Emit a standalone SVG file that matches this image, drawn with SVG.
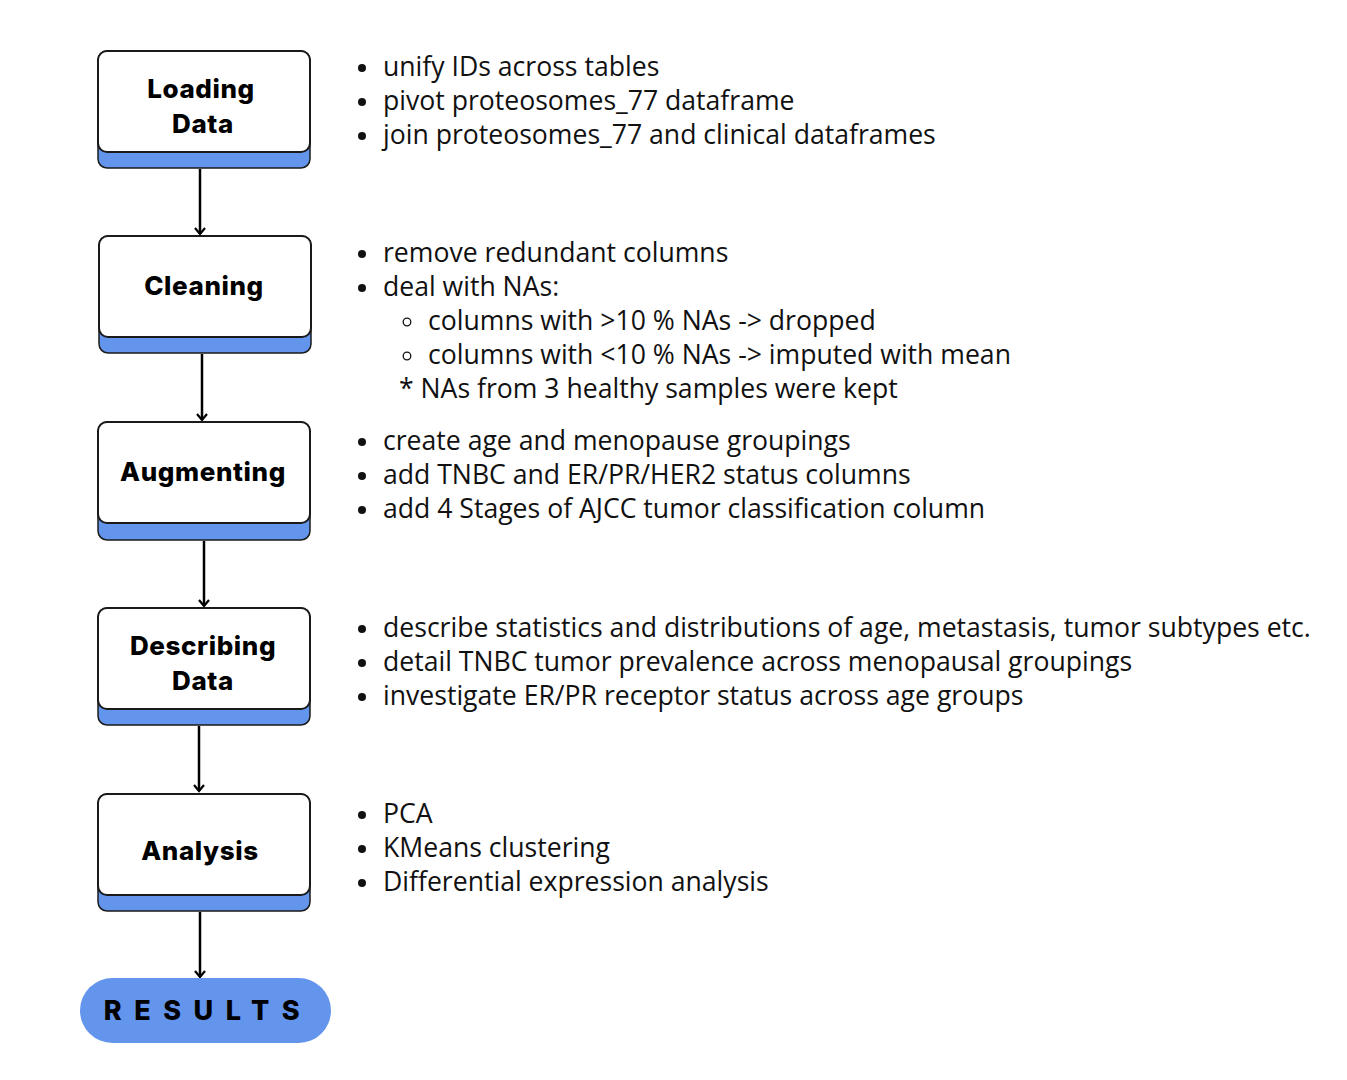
<svg xmlns="http://www.w3.org/2000/svg" width="1347" height="1080" viewBox="0 0 1347 1080">
<style>
.base{fill:#6495ED;stroke:#1a1a1a;stroke-width:1.5}
.face{fill:#ffffff;stroke:#1a1a1a;stroke-width:2}
.lbl{font-family:Inter,"Liberation Sans",sans-serif;font-weight:800;font-size:26px;letter-spacing:0.6px;fill:#000;text-anchor:middle}
.t{font-family:"Open Sans","Noto Sans",sans-serif;font-size:26.6px;fill:#111}
.conn{stroke:#000;stroke-width:2.5;fill:none}
</style>
<defs>
<marker id="ah" markerWidth="12" markerHeight="12" refX="9" refY="6" orient="auto" markerUnits="userSpaceOnUse" viewBox="0 0 12 12">
<path d="M3,1 L9,6 L3,11" fill="none" stroke="#000" stroke-width="2.2"/>
</marker>
</defs>
<rect width="1347" height="1080" fill="#fff"/>
<g id="connectors">
<line class="conn" x1="200" y1="169" x2="200" y2="234" marker-end="url(#ah)"/>
<line class="conn" x1="202" y1="354" x2="202" y2="420" marker-end="url(#ah)"/>
<line class="conn" x1="204" y1="541" x2="204" y2="606" marker-end="url(#ah)"/>
<line class="conn" x1="199" y1="726" x2="199" y2="791" marker-end="url(#ah)"/>
<line class="conn" x1="200" y1="912" x2="200" y2="977" marker-end="url(#ah)"/>
</g>
<g id="loading">
<rect class="base" x="98" y="51" width="212" height="117" rx="9"/>
<rect class="face" x="98" y="51" width="212" height="101" rx="9"/>
<text class="lbl" x="201" y="98">Loading</text>
<text class="lbl" x="203" y="133">Data</text>
</g>
<g id="cleaning">
<rect class="base" x="99" y="236" width="212" height="117" rx="9"/>
<rect class="face" x="99" y="236" width="212" height="101" rx="9"/>
<text class="lbl" x="204" y="295">Cleaning</text>
</g>
<g id="augmenting">
<rect class="base" x="98" y="422" width="212" height="118" rx="9"/>
<rect class="face" x="98" y="422" width="212" height="101" rx="9"/>
<text class="lbl" x="203" y="481">Augmenting</text>
</g>
<g id="describing">
<rect class="base" x="98" y="608" width="212" height="117" rx="9"/>
<rect class="face" x="98" y="608" width="212" height="101" rx="9"/>
<text class="lbl" x="203" y="655">Describing</text>
<text class="lbl" x="203" y="690">Data</text>
</g>
<g id="analysis">
<rect class="base" x="98" y="794" width="212" height="117" rx="9"/>
<rect class="face" x="98" y="794" width="212" height="101" rx="9"/>
<text class="lbl" x="200" y="860">Analysis</text>
</g>
<g id="results">
<rect x="80" y="978" width="251" height="65" rx="32.5" fill="#6495ED"/>
<text x="208" y="1020" font-family="Inter,'Liberation Sans',sans-serif" font-weight="800" font-size="27" letter-spacing="12.5" text-anchor="middle" fill="#000">RESULTS</text>
</g>
<g id="notes" class="t">
<circle cx="362" cy="68" r="4" fill="#111"/><text x="383" y="76">unify IDs across tables</text>
<circle cx="362" cy="102" r="4" fill="#111"/><text x="383" y="110">pivot proteosomes_77 dataframe</text>
<circle cx="362" cy="136" r="4" fill="#111"/><text x="383" y="144">join proteosomes_77 and clinical dataframes</text>

<circle cx="362" cy="254" r="4" fill="#111"/><text x="383" y="262">remove redundant columns</text>
<circle cx="362" cy="288" r="4" fill="#111"/><text x="383" y="296">deal with NAs:</text>
<circle cx="407" cy="322" r="3.8" fill="none" stroke="#111" stroke-width="1.3"/><text x="428" y="330">columns with &gt;10 % NAs -&gt; dropped</text>
<circle cx="407" cy="356" r="3.8" fill="none" stroke="#111" stroke-width="1.3"/><text x="428" y="364">columns with &lt;10 % NAs -&gt; imputed with mean</text>
<text x="399" y="398">* NAs from 3 healthy samples were kept</text>

<circle cx="362" cy="442" r="4" fill="#111"/><text x="383" y="450">create age and menopause groupings</text>
<circle cx="362" cy="476" r="4" fill="#111"/><text x="383" y="484">add TNBC and ER/PR/HER2 status columns</text>
<circle cx="362" cy="510" r="4" fill="#111"/><text x="383" y="518">add 4 Stages of AJCC tumor classification column</text>

<circle cx="362" cy="629" r="4" fill="#111"/><text x="383" y="637">describe statistics and distributions of age, metastasis, tumor subtypes etc.</text>
<circle cx="362" cy="663" r="4" fill="#111"/><text x="383" y="671">detail TNBC tumor prevalence across menopausal groupings</text>
<circle cx="362" cy="697" r="4" fill="#111"/><text x="383" y="705">investigate ER/PR receptor status across age groups</text>

<circle cx="362" cy="815" r="4" fill="#111"/><text x="383" y="823">PCA</text>
<circle cx="362" cy="849" r="4" fill="#111"/><text x="383" y="857">KMeans clustering</text>
<circle cx="362" cy="883" r="4" fill="#111"/><text x="383" y="891">Differential expression analysis</text>
</g>
</svg>
